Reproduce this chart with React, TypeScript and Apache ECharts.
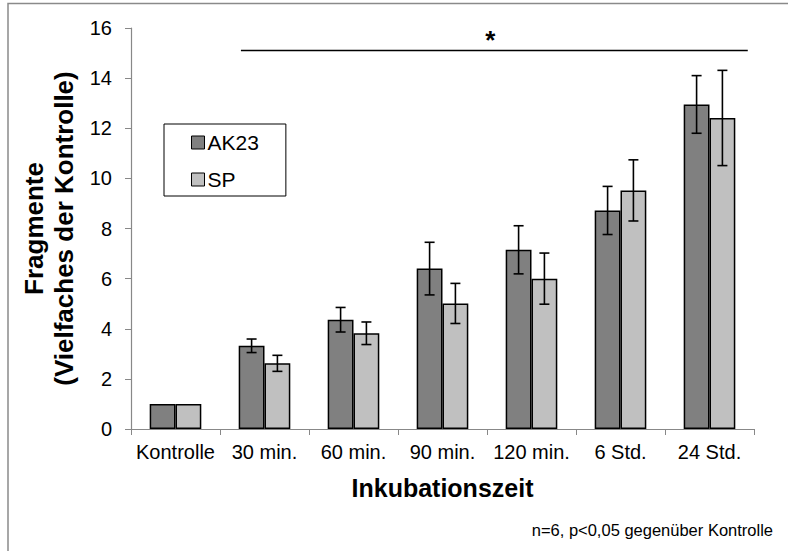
import React, { useEffect, useRef } from "react";
import * as echarts from "echarts";

const categories = ["Kontrolle", "30 min.", "60 min.", "90 min.", "120 min.", "6 Std.", "24 Std."];
const ak23Values = [1, 3.32, 4.36, 6.4, 7.15, 8.72, 12.95];
const ak23Errors = [0, 0.27, 0.49, 1.05, 0.96, 0.96, 1.15];
const spValues = [1, 2.62, 3.82, 5.01, 6.0, 9.52, 12.41];
const spErrors = [0, 0.32, 0.45, 0.8, 1.02, 1.22, 1.9];
const significanceLevel = 15.1;
const significanceFrom = 1;
const significanceTo = 6;

const FONT = "'Liberation Sans', Arial, sans-serif";
const CAT_GAP = 0.42;

function errorSeries(name: string, values: number[], errors: number[], side: number) {
  const data = values
    .map((v, i) => [i, v - errors[i], v + errors[i], errors[i]])
    .filter((d) => d[3] > 0);
  return {
    type: "custom",
    name: name + "-err",
    z: 10,
    silent: true,
    renderItem: (params: any, api: any) => {
      const x = api.value(0);
      const hi = api.coord([x, api.value(2)]);
      const lo = api.coord([x, api.value(1)]);
      const cw = api.size([1, 0])[0];
      const bw = (cw * (1 - CAT_GAP)) / 2;
      const cx = hi[0] + (side * bw) / 2;
      const cap = 5;
      const style = { stroke: "#000", lineWidth: 1.6 };
      return {
        type: "group",
        children: [
          { type: "line", shape: { x1: cx, y1: hi[1], x2: cx, y2: lo[1] }, style },
          { type: "line", shape: { x1: cx - cap, y1: hi[1], x2: cx + cap, y2: hi[1] }, style },
          { type: "line", shape: { x1: cx - cap, y1: lo[1], x2: cx + cap, y2: lo[1] }, style },
        ],
      };
    },
    data,
  };
}

export default function App() {
  const ref = useRef<HTMLDivElement>(null);
  useEffect(() => {
    if (!ref.current) return;
    const chart = echarts.init(ref.current, null, { renderer: "svg" });
    chart.setOption({
      animation: false,
      backgroundColor: "#fff",
      textStyle: { fontFamily: FONT },
      grid: { left: 131, right: 34, top: 28, bottom: 122 },
      legend: {
        data: ["AK23", "SP"],
        orient: "vertical",
        left: 164,
        top: 124,
        padding: [8, 27, 6, 27],
        itemGap: 16,
        itemWidth: 13,
        itemHeight: 13,
        icon: "rect",
        borderColor: "#000",
        borderWidth: 1,
        itemStyle: { borderColor: "#000", borderWidth: 1 },
        textStyle: { fontSize: 21, color: "#000", fontFamily: FONT, padding: [0, 0, 0, -2] },
      },
      xAxis: {
        type: "category",
        data: categories,
        name: "Inkubationszeit",
        nameLocation: "middle",
        nameGap: 46,
        nameTextStyle: { fontSize: 25, fontWeight: "bold", color: "#000", fontFamily: FONT },
        axisLine: { lineStyle: { color: "#888", width: 1.2 } },
        axisTick: { show: true, length: 6, lineStyle: { color: "#888" } },
        axisLabel: { fontSize: 20, color: "#000", margin: 13, fontFamily: FONT, interval: 0 },
      },
      yAxis: {
        type: "value",
        min: 0,
        max: 16,
        interval: 2,
        name: "Fragmente\n(Vielfaches der Kontrolle)",
        nameLocation: "middle",
        nameGap: 48,
        nameTextStyle: { fontSize: 26, fontWeight: "bold", color: "#000", lineHeight: 30, fontFamily: FONT },
        axisLine: { show: true, lineStyle: { color: "#888", width: 1.2 } },
        axisTick: { show: true, length: 6, lineStyle: { color: "#888" } },
        axisLabel: { fontSize: 20, color: "#000", margin: 19, fontFamily: FONT },
        splitLine: { show: false },
      },
      series: [
        {
          type: "bar",
          name: "AK23",
          data: ak23Values,
          barGap: "0%",
          barCategoryGap: CAT_GAP * 100 + "%",
          itemStyle: { color: "#808080", borderColor: "#000", borderWidth: 1.5 },
        },
        {
          type: "bar",
          name: "SP",
          data: spValues,
          itemStyle: { color: "#c0c0c0", borderColor: "#000", borderWidth: 1.5 },
        },
        errorSeries("AK23", ak23Values, ak23Errors, -1),
        errorSeries("SP", spValues, spErrors, 1),
        {
          type: "custom",
          name: "significance",
          silent: true,
          z: 10,
          renderItem: (params: any, api: any) => {
            const a = api.coord([api.value(0), api.value(2)]);
            const b = api.coord([api.value(1), api.value(2)]);
            const cw = api.size([1, 0])[0];
            const x1 = a[0] - cw * 0.265;
            const x2 = b[0] + cw * 0.43;
            return {
              type: "group",
              children: [
                { type: "line", shape: { x1, y1: a[1], x2, y2: a[1] }, style: { stroke: "#000", lineWidth: 1.6 } },
                {
                  type: "text",
                  x: (x1 + x2) / 2 - 4,
                  y: a[1] - 11,
                  style: { text: "*", fontSize: 26, fontWeight: "bold", fill: "#000", align: "center", verticalAlign: "middle", fontFamily: FONT },
                },
              ],
            };
          },
          data: [[significanceFrom, significanceTo, significanceLevel]],
        },
      ],
      graphic: [
        {
          type: "rect",
          shape: { x: 8, y: 3.5, width: 900, height: 700 },
          style: { fill: "none", stroke: "#8a8a8a", lineWidth: 1.5 },
          silent: true,
        },
        {
          type: "text",
          right: 15,
          top: 521,
          style: { text: "n=6, p<0,05 gegenüber Kontrolle", fontSize: 16.5, fill: "#000", fontFamily: FONT },
        },
      ],
    });
    return () => chart.dispose();
  }, []);
  return <div ref={ref} style={{ position: "fixed", left: 0, top: 0, width: 788, height: 551 }} />;
}
